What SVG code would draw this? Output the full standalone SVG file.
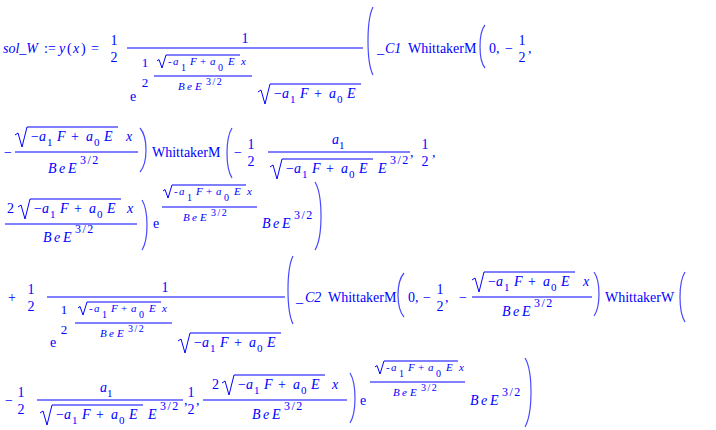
<svg xmlns="http://www.w3.org/2000/svg" width="716" height="430" viewBox="0 0 716 430">
<style>
.t{font-family:"Liberation Serif","Times New Roman",serif;font-size:14px;fill:#0000ff}
.i{font-style:italic}
.s{font-size:11px}
.u{font-size:10px}
.h{font-size:13px}
.m{text-anchor:middle}
.sp{letter-spacing:1.5px}
.b{stroke:#0000ff;stroke-width:1;fill:none}
.p{stroke:#4848ff;stroke-width:1.2;fill:none}
</style>
<rect width="716" height="430" fill="#ffffff"/>

<g id="line1">
<text class="t i" x="3" y="53">sol_W</text>
<text class="t" x="44" y="53">:=</text>
<text class="t" y="53"><tspan x="59" class="i">y</tspan><tspan x="67">(</tspan><tspan x="73" class="i">x</tspan><tspan x="81">)</tspan></text>
<text class="t" x="91" y="53">=</text>
<text class="t m" x="114" y="45">1</text>
<text class="t m" x="114" y="62">2</text>
<line class="b" x1="127" y1="48" x2="363" y2="48"/>
<text class="t m" x="245" y="43">1</text>
<text class="t" x="130" y="101">e</text>
<text class="t h m" x="145" y="67">1</text>
<text class="t h m" x="145" y="87">2</text>
<line class="b" x1="154" y1="76" x2="252" y2="76"/>
<path class="b" d="M157,61 l2,-1.5 l3,8.5 l4,-13 H240"/>
<text class="t s"><tspan x="168" y="65">-</tspan><tspan x="173" class="i">a</tspan><tspan x="181" y="71" class="u">1</tspan><tspan x="190" y="65" class="i">F</tspan><tspan x="200">+</tspan><tspan x="210" class="i">a</tspan><tspan x="218" y="71" class="u">0</tspan><tspan x="228" y="65" class="i">E</tspan><tspan x="241" class="i">x</tspan></text>
<text class="t s i"><tspan x="178" y="90">B</tspan><tspan x="187">e</tspan><tspan x="195">E</tspan></text>
<text class="t u sp" x="206" y="85">3/2</text>
<path class="b" d="M258,92 l3,-2 l4,14 l5,-20 H361"/>
<text class="t"><tspan x="274" y="98">−</tspan><tspan x="282" class="i">a</tspan><tspan x="290" y="103" class="s">1</tspan><tspan x="300" y="98" class="i">F</tspan><tspan x="314">+</tspan><tspan x="329" class="i">a</tspan><tspan x="337" y="103" class="s">0</tspan><tspan x="347" y="98" class="i">E</tspan></text>
<path class="p" d="M373,7 Q368,17 368,41 Q368,65 373,75"/>
<text class="t" x="377" y="53">_</text>
<text class="t i" x="385" y="53">C1</text>
<text class="t" x="408" y="53">WhittakerM</text>
<path class="p" d="M485,25 Q480,31 480,46.5 Q480,62 485,68"/>
<text class="t" x="489" y="53">0,</text>
<text class="t" x="505" y="53">−</text>
<text class="t m" x="522" y="45">1</text>
<text class="t m" x="522" y="62">2</text>
<text class="t" x="528" y="53">,</text>
</g>

<g id="line2">
<text class="t" x="4" y="157">−</text>
<line class="b" x1="15" y1="152" x2="138" y2="152"/>
<path class="b" d="M15,135 l3,-2 l4,14 l5,-20 H118"/>
<text class="t"><tspan x="31" y="141">−</tspan><tspan x="39" class="i">a</tspan><tspan x="47" y="146" class="s">1</tspan><tspan x="57" y="141" class="i">F</tspan><tspan x="71">+</tspan><tspan x="86" class="i">a</tspan><tspan x="94" y="146" class="s">0</tspan><tspan x="104" y="141" class="i">E</tspan><tspan x="126" class="i">x</tspan></text>
<text class="t i"><tspan x="48" y="173">B</tspan><tspan x="59">e</tspan><tspan x="68">E</tspan></text>
<text class="t sp" style="font-size:12px" x="80" y="164">3/2</text>
<path class="p" d="M140,128 Q146,135 146,150 Q146,165 140,172"/>
<text class="t" x="152" y="157">WhittakerM</text>
<path class="p" d="M232,128 Q227,136 227,153 Q227,170 232,178"/>
<text class="t" x="234" y="157">−</text>
<text class="t m" x="251" y="149">1</text>
<text class="t m" x="251" y="166">2</text>
<line class="b" x1="268" y1="152" x2="410" y2="152"/>
<text class="t"><tspan x="332" y="144" class="i">a</tspan><tspan x="339" y="149" class="s">1</tspan></text>
<path class="b" d="M270,167 l3,-2 l4,14 l5,-20 H373"/>
<text class="t"><tspan x="286" y="173">−</tspan><tspan x="294" class="i">a</tspan><tspan x="302" y="178" class="s">1</tspan><tspan x="312" y="173" class="i">F</tspan><tspan x="326">+</tspan><tspan x="341" class="i">a</tspan><tspan x="349" y="178" class="s">0</tspan><tspan x="359" y="173" class="i">E</tspan><tspan x="378" class="i">E</tspan></text>
<text class="t sp" style="font-size:12px" x="390" y="164">3/2</text>
<text class="t" x="410" y="157">,</text>
<text class="t m" x="425" y="149">1</text>
<text class="t m" x="425" y="166">2</text>
<text class="t" x="432" y="157">,</text>
</g>

<g id="line3">
<text class="t" x="7" y="213">2</text>
<path class="b" d="M18,207 l3,-2 l4,14 l5,-20 H121"/>
<text class="t"><tspan x="34" y="213">−</tspan><tspan x="42" class="i">a</tspan><tspan x="50" y="218" class="s">1</tspan><tspan x="60" y="213" class="i">F</tspan><tspan x="74">+</tspan><tspan x="89" class="i">a</tspan><tspan x="97" y="218" class="s">0</tspan><tspan x="107" y="213" class="i">E</tspan><tspan x="127" class="i">x</tspan></text>
<line class="b" x1="5" y1="224" x2="137" y2="224"/>
<text class="t i"><tspan x="43" y="242">B</tspan><tspan x="54">e</tspan><tspan x="63">E</tspan></text>
<text class="t sp" style="font-size:12px" x="75" y="233">3/2</text>
<path class="p" d="M142,200 Q147,208 147,225 Q147,242 142,250"/>
<text class="t" x="153" y="228">e</text>
<line class="b" x1="162" y1="207" x2="257" y2="207"/>
<path class="b" d="M163,191 l2,-1.5 l3,8.5 l4,-13 H246"/>
<text class="t s"><tspan x="174" y="195">-</tspan><tspan x="179" class="i">a</tspan><tspan x="187" y="201" class="u">1</tspan><tspan x="196" y="195" class="i">F</tspan><tspan x="206">+</tspan><tspan x="216" class="i">a</tspan><tspan x="224" y="201" class="u">0</tspan><tspan x="234" y="195" class="i">E</tspan><tspan x="247" class="i">x</tspan></text>
<text class="t s i"><tspan x="183" y="221">B</tspan><tspan x="192">e</tspan><tspan x="200">E</tspan></text>
<text class="t u sp" x="211" y="216">3/2</text>
<text class="t i"><tspan x="262" y="228">B</tspan><tspan x="273">e</tspan><tspan x="282">E</tspan></text>
<text class="t sp" style="font-size:12px" x="294" y="219">3/2</text>
<path class="p" d="M315,182 Q321,192 321,216 Q321,240 315,250"/>
</g>

<g id="line4">
<text class="t" x="8" y="302">+</text>
<text class="t m" x="31" y="294">1</text>
<text class="t m" x="31" y="311">2</text>
<line class="b" x1="47" y1="297" x2="285" y2="297"/>
<text class="t m" x="165" y="292">1</text>
<text class="t" x="50" y="347">e</text>
<text class="t h m" x="64" y="314">1</text>
<text class="t h m" x="64" y="334">2</text>
<line class="b" x1="75" y1="323" x2="172" y2="323"/>
<path class="b" d="M78,308 l2,-1.5 l3,8.5 l4,-13 H161"/>
<text class="t s"><tspan x="89" y="312">-</tspan><tspan x="94" class="i">a</tspan><tspan x="102" y="318" class="u">1</tspan><tspan x="111" y="312" class="i">F</tspan><tspan x="121">+</tspan><tspan x="131" class="i">a</tspan><tspan x="139" y="318" class="u">0</tspan><tspan x="149" y="312" class="i">E</tspan><tspan x="162" class="i">x</tspan></text>
<text class="t s i"><tspan x="100" y="337">B</tspan><tspan x="109">e</tspan><tspan x="117">E</tspan></text>
<text class="t u sp" x="128" y="332">3/2</text>
<path class="b" d="M178,341 l3,-2 l4,14 l5,-20 H281"/>
<text class="t"><tspan x="194" y="347">−</tspan><tspan x="202" class="i">a</tspan><tspan x="210" y="352" class="s">1</tspan><tspan x="220" y="347" class="i">F</tspan><tspan x="234">+</tspan><tspan x="249" class="i">a</tspan><tspan x="257" y="352" class="s">0</tspan><tspan x="267" y="347" class="i">E</tspan></text>
<path class="p" d="M293,256 Q288,266 288,290 Q288,314 293,324"/>
<text class="t" x="296" y="302">_</text>
<text class="t i" x="305" y="302">C2</text>
<text class="t" x="328" y="302">WhittakerM</text>
<path class="p" d="M404,273 Q398,280 398,295 Q398,310 404,317"/>
<text class="t" x="408" y="302">0,</text>
<text class="t" x="423" y="302">−</text>
<text class="t m" x="440" y="294">1</text>
<text class="t m" x="440" y="311">2</text>
<text class="t" x="445" y="302">,</text>
<text class="t" x="459" y="302">−</text>
<line class="b" x1="472" y1="297" x2="592" y2="297"/>
<path class="b" d="M472,280 l3,-2 l4,14 l5,-20 H575"/>
<text class="t"><tspan x="488" y="286">−</tspan><tspan x="496" class="i">a</tspan><tspan x="504" y="291" class="s">1</tspan><tspan x="514" y="286" class="i">F</tspan><tspan x="528">+</tspan><tspan x="543" class="i">a</tspan><tspan x="551" y="291" class="s">0</tspan><tspan x="561" y="286" class="i">E</tspan><tspan x="583" class="i">x</tspan></text>
<text class="t i"><tspan x="502" y="316">B</tspan><tspan x="513">e</tspan><tspan x="522">E</tspan></text>
<text class="t sp" style="font-size:12px" x="534" y="307">3/2</text>
<path class="p" d="M594,272 Q599,279 599,294 Q599,309 594,316"/>
<text class="t" x="605" y="302">WhittakerW</text>
<path class="p" d="M685,272 Q680,280 680,297 Q680,314 685,322"/>
</g>

<g id="line5">
<text class="t" x="5" y="405">−</text>
<text class="t m" x="21" y="397">1</text>
<text class="t m" x="21" y="414">2</text>
<line class="b" x1="37" y1="400" x2="183" y2="400"/>
<text class="t"><tspan x="100" y="392" class="i">a</tspan><tspan x="107" y="397" class="s">1</tspan></text>
<path class="b" d="M40,413 l3,-2 l4,14 l5,-20 H143"/>
<text class="t"><tspan x="56" y="419">−</tspan><tspan x="64" class="i">a</tspan><tspan x="72" y="424" class="s">1</tspan><tspan x="82" y="419" class="i">F</tspan><tspan x="96">+</tspan><tspan x="111" class="i">a</tspan><tspan x="119" y="424" class="s">0</tspan><tspan x="129" y="419" class="i">E</tspan><tspan x="148" class="i">E</tspan></text>
<text class="t sp" style="font-size:12px" x="160" y="410">3/2</text>
<text class="t" x="184" y="405">,</text>
<text class="t m" x="191" y="397">1</text>
<text class="t m" x="191" y="414">2</text>
<text class="t" x="196" y="405">,</text>
<line class="b" x1="203" y1="400" x2="347" y2="400"/>
<text class="t" x="212" y="389">2</text>
<path class="b" d="M222,383 l3,-2 l4,14 l5,-20 H325"/>
<text class="t"><tspan x="238" y="389">−</tspan><tspan x="246" class="i">a</tspan><tspan x="254" y="394" class="s">1</tspan><tspan x="264" y="389" class="i">F</tspan><tspan x="278">+</tspan><tspan x="293" class="i">a</tspan><tspan x="301" y="394" class="s">0</tspan><tspan x="311" y="389" class="i">E</tspan><tspan x="332" class="i">x</tspan></text>
<text class="t i"><tspan x="252" y="419">B</tspan><tspan x="263">e</tspan><tspan x="272">E</tspan></text>
<text class="t sp" style="font-size:12px" x="284" y="410">3/2</text>
<path class="p" d="M350,373 Q355,381 355,398 Q355,415 350,423"/>
<text class="t" x="360" y="405">e</text>
<line class="b" x1="370" y1="382" x2="465" y2="382"/>
<path class="b" d="M375,367 l2,-1.5 l3,8.5 l4,-13 H458"/>
<text class="t s"><tspan x="386" y="371">-</tspan><tspan x="391" class="i">a</tspan><tspan x="399" y="377" class="u">1</tspan><tspan x="408" y="371" class="i">F</tspan><tspan x="418">+</tspan><tspan x="428" class="i">a</tspan><tspan x="436" y="377" class="u">0</tspan><tspan x="446" y="371" class="i">E</tspan><tspan x="459" class="i">x</tspan></text>
<text class="t s i"><tspan x="393" y="396">B</tspan><tspan x="402">e</tspan><tspan x="410">E</tspan></text>
<text class="t u sp" x="421" y="391">3/2</text>
<text class="t i"><tspan x="470" y="405">B</tspan><tspan x="481">e</tspan><tspan x="490">E</tspan></text>
<text class="t sp" style="font-size:12px" x="502" y="396">3/2</text>
<path class="p" d="M525,358 Q531,368 531,392 Q531,416 525,427"/>
</g>
</svg>
